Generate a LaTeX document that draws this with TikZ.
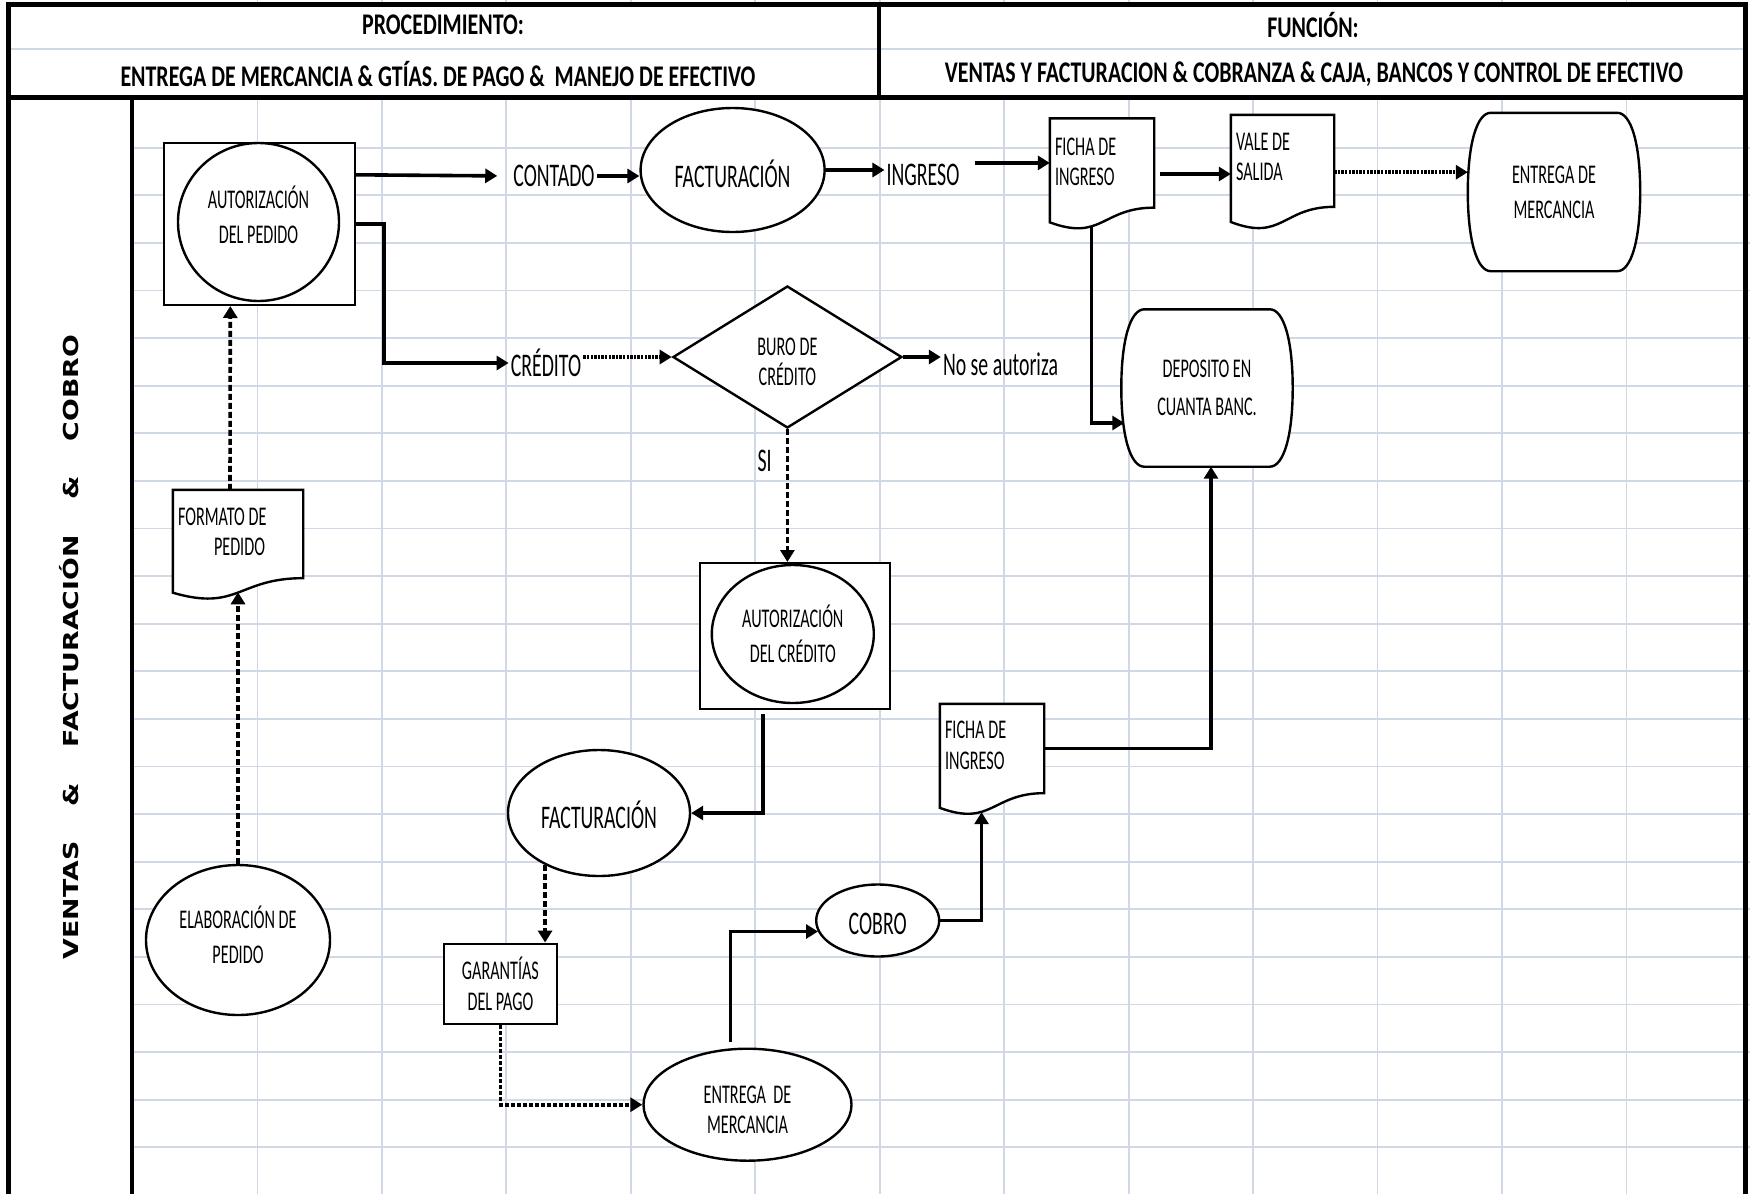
\documentclass[tikz,border=0pt]{standalone}
\usepackage{fontspec}
\newfontfamily\shapefont[FakeStretch=0.6]{Carlito}
\newfontfamily\headfont[FakeStretch=0.73]{Carlito}
\newfontfamily\lanefont[FakeStretch=1.3]{DejaVu Sans}
\usepackage{tikz}
\usetikzlibrary{shapes.geometric,arrows.meta,positioning,calc,backgrounds}
\definecolor{gridblue}{RGB}{208,215,229}

% document symbol (wavy bottom) behind a node
\newcommand{\docoutline}[1]{%
  \begin{scope}[on background layer]
    \draw[shapeline] (#1.north west) -- (#1.north east)
      -- ($(#1.north east)!0.802!(#1.south east)$)
      .. controls ($(#1.north)!0.802!(#1.south)$) and ($(#1.north)!1.1075!(#1.south)$)
      .. ($(#1.north west)!0.934!(#1.south west)$) -- cycle;
  \end{scope}}
% box with bulging sides behind a node
\newcommand{\bulgeoutline}[1]{%
  \begin{scope}[on background layer]
    \draw[shapeline] ($(#1.north west)+(23,0)$) -- ($(#1.north east)+(-23,0)$)
      .. controls ($(#1.north east)+(-9,0)$) and ($(#1.east)+(0,-48)$) .. (#1.east)
      .. controls ($(#1.east)+(0,48)$) and ($(#1.south east)+(-9,0)$) .. ($(#1.south east)+(-23,0)$)
      -- ($(#1.south west)+(23,0)$)
      .. controls ($(#1.south west)+(9,0)$) and ($(#1.west)+(0,48)$) .. (#1.west)
      .. controls ($(#1.west)+(0,-48)$) and ($(#1.north west)+(9,0)$) .. ($(#1.north west)+(23,0)$) -- cycle;
  \end{scope}}

\begin{document}
\begin{tikzpicture}[x=1pt, y=-1pt,
    every node/.style={inner sep=2pt},
    gridline/.style={draw=gridblue, line width=1.8pt},
    borderline/.style={draw=black, line width=4.5pt},
    headtxt/.style={font=\headfont\bfseries\fontsize{30}{34}\selectfont},
    lanetxt/.style={font=\lanefont\bfseries\fontsize{20.6}{24}\selectfont},
    smalltxt/.style={font=\shapefont\fontsize{27}{35}\selectfont},
    doctxt/.style={font=\shapefont\fontsize{27}{30.5}\selectfont},
    bigtxt/.style={font=\shapefont\fontsize{33}{37}\selectfont},
    oval/.style={ellipse, draw, line width=2.4pt, fill=white, inner sep=0pt, align=center, smalltxt},
    framebox/.style={rectangle, draw, line width=2pt, fill=white, inner sep=0pt, align=center},
    docbox/.style={rectangle, inner xsep=5pt, inner ysep=0pt, align=left, doctxt,
      execute at begin node={\spaceskip=0pt\xspaceskip=0pt\relax}},
    bulgebox/.style={rectangle, inner sep=0pt, align=center, smalltxt},
    shapeline/.style={draw=black, line width=2.4pt, fill=white},
    arr/.style={line width=3.6pt, -{Triangle[length=12pt,width=14pt]}},
    dashv/.style={arr, dash pattern=on 6pt off 3pt},
    doth/.style={arr, dash pattern=on 2.4pt off 1.2pt},
    dashm/.style={arr, dash pattern=on 4pt off 2pt}]
  \useasboundingbox (0,0) rectangle (1750,1194);

  % sheet grid and frame
  \begin{scope}[on background layer]
    \foreach \gx in {1,...,12}
      \draw[gridline] ({133+124.45*\gx},0) -- ({133+124.45*\gx},1194);
    \foreach \gy in {1,...,22}
      \draw[gridline] (133,{100+47.6*\gy}) -- (1750,{100+47.6*\gy});
    \fill[white] (8.5,4.5) rectangle (1745.5,97.5);
    \draw[gridline] (8.5,49) -- (1745.5,49);
    \draw[borderline] (8.5,1194) -- (8.5,4.5) -- (1745.5,4.5) -- (1745.5,1194);
    \draw[borderline] (8.5,97.5) -- (1745.5,97.5);
    \draw[borderline] (879,4.5) -- (879,97.5);
    \draw[borderline] (132,97.5) -- (132,1194);
  \end{scope}

  % header
  \node[headtxt] (proc) at (443,25) {PROCEDIMIENTO:};
  \node[headtxt] (procsub) at (438,74) {ENTREGA DE MERCANCIA \& GTÍAS. DE PAGO \&\ \ MANEJO DE EFECTIVO};
  \node[headtxt] (func) at (1313,25) {FUNCIÓN:};
  \node[headtxt] (funcsub) at (1314,74) {VENTAS Y FACTURACION \& COBRANZA \& CAJA, BANCOS Y CONTROL DE EFECTIVO};

  % lane
  \node[lanetxt, rotate=90] (lane) at (69,647) {VENTAS\hspace{35.5pt}\&\hspace{35.5pt}FACTURACIÓN\hspace{35.5pt}\&\hspace{35.5pt}COBRO};

  % order authorisation
  \node[framebox, minimum width=191pt, minimum height=162pt] (autpedbox) at (259.3,224) {};
  \node[oval, minimum width=161pt, minimum height=158pt] (autped) at (258.5,222) {};
  \node[smalltxt, align=center] (autpedtxt) at (258.5,214.5) {AUTORIZACIÓN\\DEL PEDIDO};
  \node[docbox, text width=120pt, text height=35pt, text depth=74.7pt] (formato) at (238,544.9) {FORMATO DE\\\hspace*{36pt}PEDIDO};
  \docoutline{formato}
  \node[oval, minimum width=184pt, minimum height=150pt] (elab) at (238,940) {};
  \node[smalltxt, align=center] (elabtxt) at (238,935) {ELABORACIÓN DE\\PEDIDO};

  % cash sale
  \node[bigtxt] (contado) at (554,176) {CONTADO};
  \node[oval, bigtxt, text height=35pt, text depth=0pt, minimum width=184pt, minimum height=124pt] (fact1) at (732.6,170) {FACTURACIÓN};
  \node[bigtxt] (ingreso) at (923,175) {INGRESO};
  \node[docbox, text width=94pt, text height=36.7pt, text depth=74.3pt] (fichaA) at (1102,174) {FICHA DE\\INGRESO};
  \docoutline{fichaA}
  \node[docbox, text width=93pt, text height=35.2pt, text depth=79.1pt] (valeB) at (1282.5,172.2) {VALE DE\\SALIDA};
  \docoutline{valeB}
  \node[bulgebox, minimum width=172pt, minimum height=158pt] (entregaA) at (1554,192) {ENTREGA DE\\MERCANCIA};
  \bulgeoutline{entregaA}

  % credit sale
  \node[bigtxt] (credito) at (546,363) {CRÉDITO};
  \node[diamond, draw, line width=2.4pt, fill=white, inner sep=0pt, minimum width=229pt, minimum height=142pt] (buro) at (787.4,357) {};
  \node[doctxt, align=center] (burotxt) at (787.4,362) {BURO DE\\CRÉDITO};
  \node[bigtxt] (noaut) at (1000.5,364) {No se autoriza};
  \node[framebox, minimum width=190pt, minimum height=146pt] (autcredbox) at (794.9,636) {};
  \node[oval, minimum width=162pt, minimum height=138pt] (autcred) at (792.8,634) {AUTORIZACIÓN\\DEL CRÉDITO};
  \node[oval, bigtxt, text height=31pt, text depth=0pt, minimum width=182pt, minimum height=126pt] (fact2) at (599,813) {FACTURACIÓN};
  \node[framebox, doctxt, minimum width=113pt, minimum height=80.5pt] (garantias) at (500.4,983.8) {GARANTÍAS\\DEL PAGO};
  \node[oval, minimum width=208pt, minimum height=112pt] (entrega2) at (747.5,1104.7) {};
  \node[doctxt, align=center] (entrega2txt) at (747.5,1110) {ENTREGA\ \ DE\\MERCANCIA};
  \node[oval, bigtxt, text height=28pt, text depth=0pt, minimum width=123pt, minimum height=72pt] (cobro) at (877.7,920.5) {COBRO};
  \node[docbox, text width=94pt, text height=34.5pt, text depth=76.5pt] (fichaC) at (992,759.5) {FICHA DE\\INGRESO};
  \docoutline{fichaC}

  % bank deposit
  \node[bulgebox, font=\shapefont\fontsize{27}{38}\selectfont, minimum width=171pt, minimum height=157pt] (deposito) at (1207,388) {DEPOSITO EN\\CUANTA BANC.};
  \bulgeoutline{deposito}

  % connectors, cash
  \draw[arr, shorten >=14pt] ($(autpedbox.north east)!0.2!(autpedbox.south east)$) -- (contado.west);
  \draw[arr] (contado.east) -- (contado.east -| fact1.west);
  \draw[arr] (fact1.east) -- (fact1.east -| ingreso.west);
  \draw[arr, shorten <=13pt] (ingreso.east |- fichaA.168) -- (fichaA.168);
  \draw[arr, shorten <=6pt] (fichaA.east) -- (fichaA.east -| valeB.west);
  \draw[doth] (valeB.east) -- (valeB.east -| entregaA.west);
  \draw[arr] ($(fichaA.south west)!0.4!(fichaA.south east)+(0,-4)$) |- ($(deposito.west)+(3,35)$);

  % connectors, credit
  \draw[arr] (autpedbox.east) -- ++(28,0) |- (credito.west);
  \draw[doth] (credito.east |- buro.west) -- (buro.west);
  \draw[arr] (buro.east) -- (buro.east -| noaut.west);
  \draw[dashv] (buro.south) -- (buro.south |- autcredbox.north) node[bigtxt, pos=0.24, left=12pt] (si) {SI};
  \draw[arr] ($(autcredbox.south)+(-32,4)$) |- (fact2.east);
  \draw[dashv] (fact2.224) -- (fact2.224 |- garantias.north);
  \draw[dashm] (garantias.south) |- (entrega2.west);
  \draw[arr] ($(entrega2.north)+(-17,-6)$) |- ($(cobro.west)+(3,11)$);
  \draw[arr] (cobro.east) -| ($(fichaC.south west)!0.4!(fichaC.south east)+(0,-3)$);
  \draw[arr] ($(fichaC.north east)!0.4!(fichaC.south east)$) -| ($(deposito.south)+(4,0)$);

  % order flow
  \draw[dashv] (elab.north) -- ($(formato.north)!0.93!(formato.south)$);
  \draw[dashv] ($(formato.north)+(-8,0)$) -- ($(autpedbox.south)+(-29,0)$);
\end{tikzpicture}
\end{document}
